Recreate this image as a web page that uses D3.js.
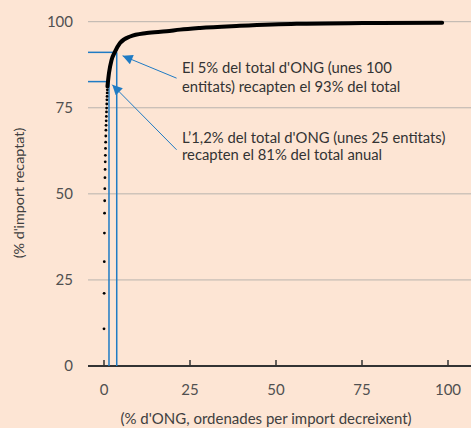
<!DOCTYPE html>
<html>
<head>
<meta charset="utf-8">
<script src="https://cdn.jsdelivr.net/npm/d3@7"></script>
<style>
  body { margin: 0; background: #fde5d4; }
  svg { display: block; font-family: Lato, "Noto Sans", sans-serif; }
</style>
</head>
<body>
<svg id="chart" width="471" height="428"></svg>
<script>
// Ticks on both axes (% values)
const xTicks = [0, 25, 50, 75, 100];
const yTicks = [0, 25, 50, 75, 100];

// Biggest NGOs, drawn one dot each (cumulative % of ONG, cumulative % of import)
const topNgoX = [0, 0.04, 0.08, 0.12, 0.16, 0.2, 0.24, 0.28, 0.32, 0.36, 0.4, 0.44, 0.48,
  0.52, 0.56, 0.6, 0.64, 0.68, 0.72, 0.76, 0.8, 0.84, 0.88, 0.92, 0.96];
const topNgoY = [10.8, 21.1, 30.3, 38.6, 44.4, 48.0, 51.5, 54.7, 57.1, 59.3, 61.2, 63.2, 65.0,
  66.8, 68.5, 69.9, 71.2, 72.5, 73.8, 74.9, 76.1, 77.3, 78.3, 79.3, 80.2];

// The rest of the concentration curve
const curveX = [1.0, 1.45, 2.2, 3.1, 4.65, 7.6, 12.4, 18.2, 22.1, 27.9, 39.5, 56, 75.3, 98.3];
const curveY = [81.2, 85.1, 88.9, 91.1, 93.8, 95.7, 96.7, 97.2, 97.7, 98.2, 98.8, 99.4, 99.6, 99.7];

// Blue guide lines (x where they drop, y where they start)
const guideX = [3.7, 1.45];
const guideY = [91.1, 82.6];

// Annotations
const noteLines = [
  ["El 5% del total d'ONG (unes 100", "entitats) recapten el 93% del total"],
  ["L\u20191,2% del total d'ONG (unes 25 entitats)", "recapten el 81% del total anual"]
];
const noteArrowFrom = [[21.1, 83.6], [21.1, 62.8]];
const noteArrowTo = [[5.4, 90.1], [2.4, 81.7]];

const blue = "#1f7bc4";
const svg = d3.select("#chart");

const x = d3.scaleLinear().domain([0, 100]).range([104, 448]);
const y = d3.scaleLinear().domain([0, 100]).range([366, 21.7]);
const plotLeft = 88, plotRight = 471;

// arrow head
svg.append("defs").append("marker")
  .attr("id", "head")
  .attr("viewBox", "0 0 10 10")
  .attr("refX", 10).attr("refY", 5)
  .attr("markerWidth", 11).attr("markerHeight", 10)
  .attr("markerUnits", "userSpaceOnUse")
  .attr("orient", "auto")
  .append("path")
  .attr("d", "M0,0 L10,5 L0,10 z")
  .attr("fill", blue);

// gridlines
svg.append("g").selectAll("line")
  .data(yTicks.filter(d => d > 0))
  .join("line")
  .attr("x1", plotLeft).attr("x2", plotRight)
  .attr("y1", d => y(d)).attr("y2", d => y(d))
  .attr("stroke", "#b8b3ad").attr("stroke-width", 1);

// y tick labels
svg.append("g").selectAll("text")
  .data(yTicks)
  .join("text")
  .attr("x", 73).attr("y", d => y(d))
  .attr("dy", "0.36em")
  .attr("text-anchor", "end")
  .attr("font-size", 15)
  .attr("fill", "#505050")
  .text(d => d);

// x axis line and ticks
svg.append("line")
  .attr("x1", plotLeft).attr("x2", plotRight)
  .attr("y1", y(0)).attr("y2", y(0))
  .attr("stroke", "#333").attr("stroke-width", 2);

svg.append("g").selectAll("line")
  .data(xTicks)
  .join("line")
  .attr("x1", d => x(d)).attr("x2", d => x(d))
  .attr("y1", y(0) - 6).attr("y2", y(0))
  .attr("stroke", "#333").attr("stroke-width", 1.5);

svg.append("g").selectAll("text")
  .data(xTicks)
  .join("text")
  .attr("x", d => x(d)).attr("y", 395)
  .attr("text-anchor", "middle")
  .attr("font-size", 15)
  .attr("fill", "#505050")
  .text(d => d);

// axis titles
svg.append("text")
  .attr("x", 266).attr("y", 424)
  .attr("text-anchor", "middle")
  .attr("font-size", 15)
  .attr("fill", "#404040")
  .text("(% d'ONG, ordenades per import decreixent)");

svg.append("text")
  .attr("transform", "translate(24,193) rotate(-90)")
  .attr("text-anchor", "middle")
  .attr("font-size", 14.3)
  .attr("fill", "#404040")
  .text("(% d'import recaptat)");

// blue guide lines
guideX.forEach((gx, i) => {
  svg.append("line")
    .attr("x1", plotLeft).attr("x2", x(gx))
    .attr("y1", y(guideY[i])).attr("y2", y(guideY[i]))
    .attr("stroke", blue).attr("stroke-width", 1.5);
  svg.append("line")
    .attr("x1", x(gx)).attr("x2", x(gx))
    .attr("y1", y(guideY[i])).attr("y2", y(0))
    .attr("stroke", blue).attr("stroke-width", 1.5);
});

// dots for the top entities
svg.append("g").selectAll("circle")
  .data(topNgoX)
  .join("circle")
  .attr("cx", d => x(d))
  .attr("cy", (d, i) => y(topNgoY[i]))
  .attr("r", 1.4)
  .attr("fill", "#000");

// curve
const line = d3.line()
  .x(d => x(d[0]))
  .y(d => y(d[1]))
  .curve(d3.curveMonotoneX);

svg.append("path")
  .datum(curveX.map((d, i) => [d, curveY[i]]))
  .attr("d", line)
  .attr("fill", "none")
  .attr("stroke", "#000")
  .attr("stroke-width", 4)
  .attr("stroke-linecap", "round");

// annotation arrows and text
noteLines.forEach((lines, i) => {
  svg.append("line")
    .attr("x1", x(noteArrowFrom[i][0])).attr("y1", y(noteArrowFrom[i][1]))
    .attr("x2", x(noteArrowTo[i][0])).attr("y2", y(noteArrowTo[i][1]))
    .attr("stroke", blue).attr("stroke-width", 1)
    .attr("marker-end", "url(#head)");
});

const noteBase = [[73.3, 91.7], [143, 159.5]];
noteLines.forEach((lines, i) => {
  lines.forEach((t, j) => {
    svg.append("text")
      .attr("x", 182).attr("y", noteBase[i][j])
      .attr("font-size", 14.8)
      .attr("fill", "#333")
      .text(t);
  });
});
</script>
</body>
</html>
